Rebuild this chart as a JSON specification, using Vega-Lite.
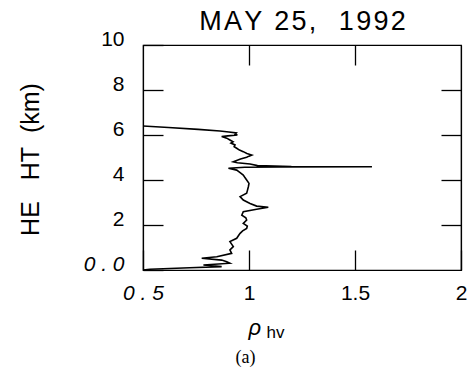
{
  "$schema": "https://vega.github.io/schema/vega-lite/v6.json",
  "width": 318,
  "height": 225,
  "autosize": {"type": "none"},
  "padding": {"left": 143, "top": 45, "right": 11, "bottom": 99},
  "background": "white",
  "data": {"values": [
    {"rho": 0.500, "h": 6.40}, {"rho": 0.620, "h": 6.33}, {"rho": 0.760, "h": 6.25}, {"rho": 0.863, "h": 6.18},
    {"rho": 0.905, "h": 6.13}, {"rho": 0.940, "h": 6.09}, {"rho": 0.935, "h": 6.04}, {"rho": 0.945, "h": 6.00},
    {"rho": 0.900, "h": 5.96}, {"rho": 0.871, "h": 5.93}, {"rho": 0.895, "h": 5.86}, {"rho": 0.910, "h": 5.78},
    {"rho": 0.925, "h": 5.70}, {"rho": 0.915, "h": 5.64}, {"rho": 0.934, "h": 5.56}, {"rho": 0.930, "h": 5.48},
    {"rho": 0.942, "h": 5.41}, {"rho": 0.955, "h": 5.33}, {"rho": 0.973, "h": 5.26}, {"rho": 0.990, "h": 5.18},
    {"rho": 1.013, "h": 5.11}, {"rho": 1.000, "h": 5.06}, {"rho": 0.989, "h": 5.01}, {"rho": 0.960, "h": 4.93},
    {"rho": 0.926, "h": 4.81}, {"rho": 0.945, "h": 4.77}, {"rho": 1.005, "h": 4.71}, {"rho": 1.040, "h": 4.64},
    {"rho": 1.200, "h": 4.60}, {"rho": 1.580, "h": 4.59}, {"rho": 1.150, "h": 4.585}, {"rho": 0.980, "h": 4.57},
    {"rho": 0.903, "h": 4.52}, {"rho": 0.942, "h": 4.44}, {"rho": 0.955, "h": 4.35}, {"rho": 0.973, "h": 4.22},
    {"rho": 0.980, "h": 4.12}, {"rho": 0.989, "h": 4.00}, {"rho": 1.000, "h": 3.85}, {"rho": 0.997, "h": 3.70},
    {"rho": 0.993, "h": 3.55}, {"rho": 0.989, "h": 3.41}, {"rho": 0.958, "h": 3.26}, {"rho": 0.973, "h": 3.11},
    {"rho": 1.005, "h": 2.96}, {"rho": 1.036, "h": 2.84}, {"rho": 1.091, "h": 2.79}, {"rho": 1.036, "h": 2.70},
    {"rho": 0.973, "h": 2.59}, {"rho": 0.966, "h": 2.44}, {"rho": 0.985, "h": 2.32}, {"rho": 0.989, "h": 2.22},
    {"rho": 0.973, "h": 2.07}, {"rho": 0.992, "h": 1.95}, {"rho": 0.989, "h": 1.85}, {"rho": 0.970, "h": 1.74},
    {"rho": 0.958, "h": 1.63}, {"rho": 0.950, "h": 1.52}, {"rho": 0.942, "h": 1.41}, {"rho": 0.910, "h": 1.26},
    {"rho": 0.926, "h": 1.04}, {"rho": 0.910, "h": 0.89}, {"rho": 0.918, "h": 0.74}, {"rho": 0.848, "h": 0.59},
    {"rho": 0.777, "h": 0.52}, {"rho": 0.871, "h": 0.44}, {"rho": 0.895, "h": 0.37}, {"rho": 0.910, "h": 0.30},
    {"rho": 0.785, "h": 0.22}, {"rho": 0.871, "h": 0.15}, {"rho": 0.720, "h": 0.10}, {"rho": 0.533, "h": 0.03},
    {"rho": 0.500, "h": 0.00}
  ]},
  "layer": [
    {
      "mark": {"type": "line", "color": "black", "strokeWidth": 1.6},
      "encoding": {
        "x": {"field": "rho", "type": "quantitative",
          "scale": {"domain": [0.5, 2], "nice": false, "zero": false},
          "axis": {"orient": "bottom", "values": [0.5, 1, 1.5, 2], "tickSize": -20, "labelPadding": 32,
            "labelExpr": "datum.value == 0.5 ? '0 . 5' : '' + datum.value",
            "labelFontStyle": {"condition": {"test": "datum.value == 0.5", "value": "italic"}, "value": "normal"},
            "title": "ρ", "titleFont": "Liberation Sans", "titleFontSize": 22, "titleFontStyle": "italic", "titleFontWeight": "normal",
            "titleAlign": "left", "titleBaseline": "alphabetic", "titleX": 105, "titleY": 64, "titleAngle": 0}},
        "y": {"field": "h", "type": "quantitative",
          "scale": {"domain": [0, 10], "nice": false, "zero": false},
          "axis": {"orient": "left", "values": [0, 2, 4, 6, 8, 10], "tickSize": -20, "labelPadding": 39, "labelOffset": -6,
            "labelExpr": "datum.value == 0 ? '0 . 0' : '' + datum.value",
            "labelFontStyle": {"condition": {"test": "datum.value == 0", "value": "italic"}, "value": "normal"},
            "title": "HE\u00a0\u00a0\u00a0HT\u00a0\u00a0(km)", "titleFont": "Liberation Sans", "titleFontSize": 25, "titleFontWeight": "normal",
            "titleAngle": -90, "titleAlign": "center", "titleBaseline": "middle", "titleX": -113, "titleY": 114}},
        "order": {"value": null}
      }
    },
    {
      "mark": {"type": "line", "opacity": 0},
      "encoding": {
        "x": {"field": "rho", "type": "quantitative",
          "axis": {"orient": "top", "values": [1, 1.5], "tickSize": -20, "labels": false,
            "title": "M\u200aA\u200aY\u200a\u00a0\u200a2\u200a5\u200a,\u00a0\u00a0\u00a01\u200a9\u200a9\u200a2", "titleFont": "Liberation Sans", "titleFontSize": 27, "titleFontWeight": "normal",
            "titleAlign": "center", "titleBaseline": "alphabetic", "titleX": 159, "titleY": -16}},
        "y": {"field": "h", "type": "quantitative",
          "axis": {"orient": "right", "values": [2, 4, 6, 8], "tickSize": -20, "labels": false, "title": null}},
        "order": {"value": null}
      }
    },
    {
      "mark": {"type": "line", "opacity": 0},
      "encoding": {
        "x": {"field": "rho", "type": "quantitative",
          "axis": {"orient": "bottom", "domain": false, "ticks": false, "labels": false,
            "title": "hv", "titleFont": "Liberation Sans", "titleFontSize": 17, "titleFontWeight": "normal",
            "titleAlign": "left", "titleBaseline": "alphabetic", "titleX": 123, "titleY": 67}},
        "y": {"field": "h", "type": "quantitative", "axis": null},
        "order": {"value": null}
      }
    },
    {
      "mark": {"type": "line", "opacity": 0},
      "encoding": {
        "x": {"field": "rho", "type": "quantitative",
          "axis": {"orient": "bottom", "domain": false, "ticks": false, "labels": false,
            "title": "(a)", "titleFont": "Liberation Serif", "titleFontSize": 18, "titleFontWeight": "normal",
            "titleAlign": "center", "titleBaseline": "alphabetic", "titleX": 102, "titleY": 92}},
        "y": {"field": "h", "type": "quantitative", "axis": null},
        "order": {"value": null}
      }
    }
  ],
  "resolve": {"axis": {"x": "independent", "y": "independent"}},
  "config": {
    "view": {"stroke": "black", "strokeWidth": 1.2},
    "axis": {"grid": false, "domainColor": "black", "domainWidth": 1.2, "tickColor": "black", "tickWidth": 1.3,
      "labelColor": "black", "titleColor": "black", "labelFont": "Liberation Sans", "labelFontSize": 21,
      "labelFlush": false, "labelOverlap": false, "labelBound": false}
  }
}
